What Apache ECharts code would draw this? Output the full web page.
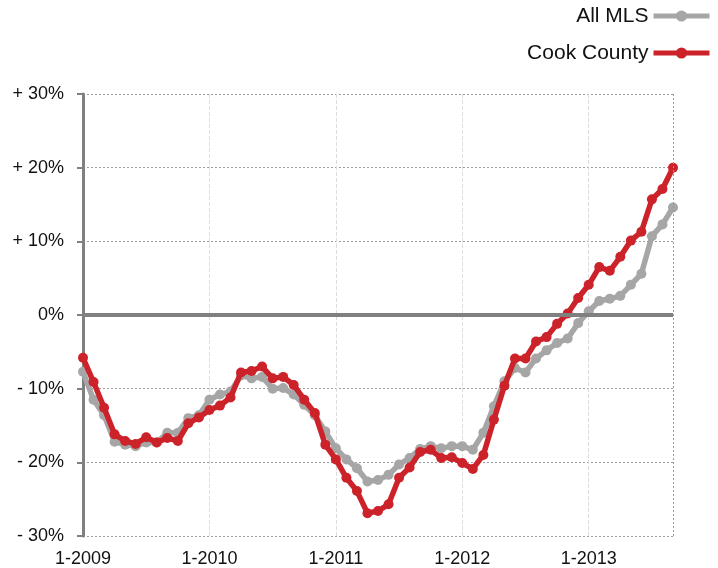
<!DOCTYPE html>
<html>
<head>
<meta charset="utf-8">
<script src="https://cdn.jsdelivr.net/npm/echarts@6/dist/echarts.min.js"></script>
<style>
html,body{margin:0;padding:0;background:#fff;}
#chart{width:718px;height:568px;}
</style>
</head>
<body>
<div id="chart"></div>
<script>
// Month categories (Jan 2009 .. Sep 2013)
var months = [
  "1-2009","2-2009","3-2009","4-2009","5-2009","6-2009","7-2009","8-2009","9-2009","10-2009","11-2009","12-2009",
  "1-2010","2-2010","3-2010","4-2010","5-2010","6-2010","7-2010","8-2010","9-2010","10-2010","11-2010","12-2010",
  "1-2011","2-2011","3-2011","4-2011","5-2011","6-2011","7-2011","8-2011","9-2011","10-2011","11-2011","12-2011",
  "1-2012","2-2012","3-2012","4-2012","5-2012","6-2012","7-2012","8-2012","9-2012","10-2012","11-2012","12-2012",
  "1-2013","2-2013","3-2013","4-2013","5-2013","6-2013","7-2013","8-2013","9-2013"
];
var seriesNames = ["All MLS", "Cook County"];
var allMLS = [
  -7.7,-11.5,-13.6,-17.2,-17.6,-17.8,-17.3,-17.3,-16.0,-16.0,-14.0,-13.6,
  -11.5,-10.8,-10.4,-8.2,-8.6,-8.4,-10.0,-9.9,-10.8,-12.2,-13.6,-15.8,
  -18.1,-19.6,-20.8,-22.6,-22.4,-21.7,-20.3,-19.4,-18.2,-17.8,-18.1,-17.8,
  -17.8,-18.3,-16.0,-12.4,-9.0,-7.2,-7.8,-5.9,-4.8,-3.8,-3.2,-1.1,
  0.5,1.9,2.2,2.6,4.1,5.6,10.7,12.3,14.6
];
var cookCounty = [
  -5.8,-9.1,-12.6,-16.2,-17.1,-17.5,-16.6,-17.3,-16.7,-17.1,-14.7,-13.9,
  -12.9,-12.3,-11.2,-7.8,-7.6,-7.0,-8.6,-8.4,-9.5,-11.5,-13.3,-17.6,
  -19.6,-22.1,-23.9,-26.9,-26.6,-25.7,-22.1,-20.7,-18.6,-18.3,-19.4,-19.3,
  -20.1,-20.9,-19.0,-14.2,-9.6,-5.9,-5.9,-3.6,-3.0,-1.2,0.2,2.3,
  4.1,6.5,6.0,7.9,10.1,11.3,15.7,17.1,20.0
];
var yTickLabels = {"30":"+ 30%","20":"+ 20%","10":"+ 10%","0":"0%","-10":"- 10%","-20":"- 20%","-30":"- 30%"};

var FONT = '"Liberation Sans", Arial, Helvetica, sans-serif';
var GRAY = '#a6a6a6', RED = '#cc2229';
var chart = echarts.init(document.getElementById('chart'), null, {renderer:'canvas'});
chart.setOption({
  animation: false,
  backgroundColor: '#ffffff',
  grid: {left: 83, right: 45, top: 94, bottom: 31, containLabel: false},
  legend: {
    data: seriesNames,
    orient: 'vertical',
    right: 6,
    top: 5,
    padding: [0, 0, 0, 0],
    align: 'right',
    itemWidth: 56,
    itemHeight: 14,
    itemGap: 15,
    lineStyle: {width: 5},
    textStyle: {fontFamily: FONT, fontSize: 21, color: '#111', lineHeight: 22}
  },
  xAxis: {
    type: 'category',
    data: months,
    boundaryGap: false,
    axisLine: {show: false},
    axisTick: {show: false},
    axisLabel: {
      interval: 11,
      fontFamily: FONT, fontSize: 18, color: '#111', margin: 14
    },
    splitLine: {
      show: true,
      interval: 11,
      lineStyle: {color: '#dcdcdc', width: 1, type: [4, 2]}
    }
  },
  yAxis: {
    type: 'value',
    min: -30, max: 30, interval: 10,
    axisLine: {show: true, lineStyle: {color: '#808080', width: 3}},
    axisTick: {show: true, length: 6, lineStyle: {color: '#808080', width: 2}},
    axisLabel: {
      fontFamily: FONT, fontSize: 18, color: '#111', margin: 19,
      formatter: function (v) { return yTickLabels[String(v)]; }
    },
    splitLine: {show: true, lineStyle: {color: '#9a9a9a', width: 1, type: [2, 2]}}
  },
  series: [
    {
      name: '_ref',
      type: 'line',
      data: [],
      z: 1,
      silent: true,
      markLine: {
        silent: true,
        symbol: ['none', 'none'],
        label: {show: false},
        data: [
          {yAxis: 0, lineStyle: {color: '#808080', width: 4, type: 'solid'}},
          {xAxis: months[months.length - 1], lineStyle: {color: '#9a9a9a', width: 1, type: [2, 2]}}
        ]
      }
    },
    {
      name: seriesNames[0],
      type: 'line',
      data: allMLS,
      z: 3,
      symbol: 'circle',
      symbolSize: 10,
      showAllSymbol: true,
      lineStyle: {color: GRAY, width: 5.5},
      itemStyle: {color: GRAY}
    },
    {
      name: seriesNames[1],
      type: 'line',
      data: cookCounty,
      z: 4,
      symbol: 'circle',
      symbolSize: 10,
      showAllSymbol: true,
      lineStyle: {color: RED, width: 5.5},
      itemStyle: {color: RED}
    }
  ]
});
</script>
</body>
</html>
